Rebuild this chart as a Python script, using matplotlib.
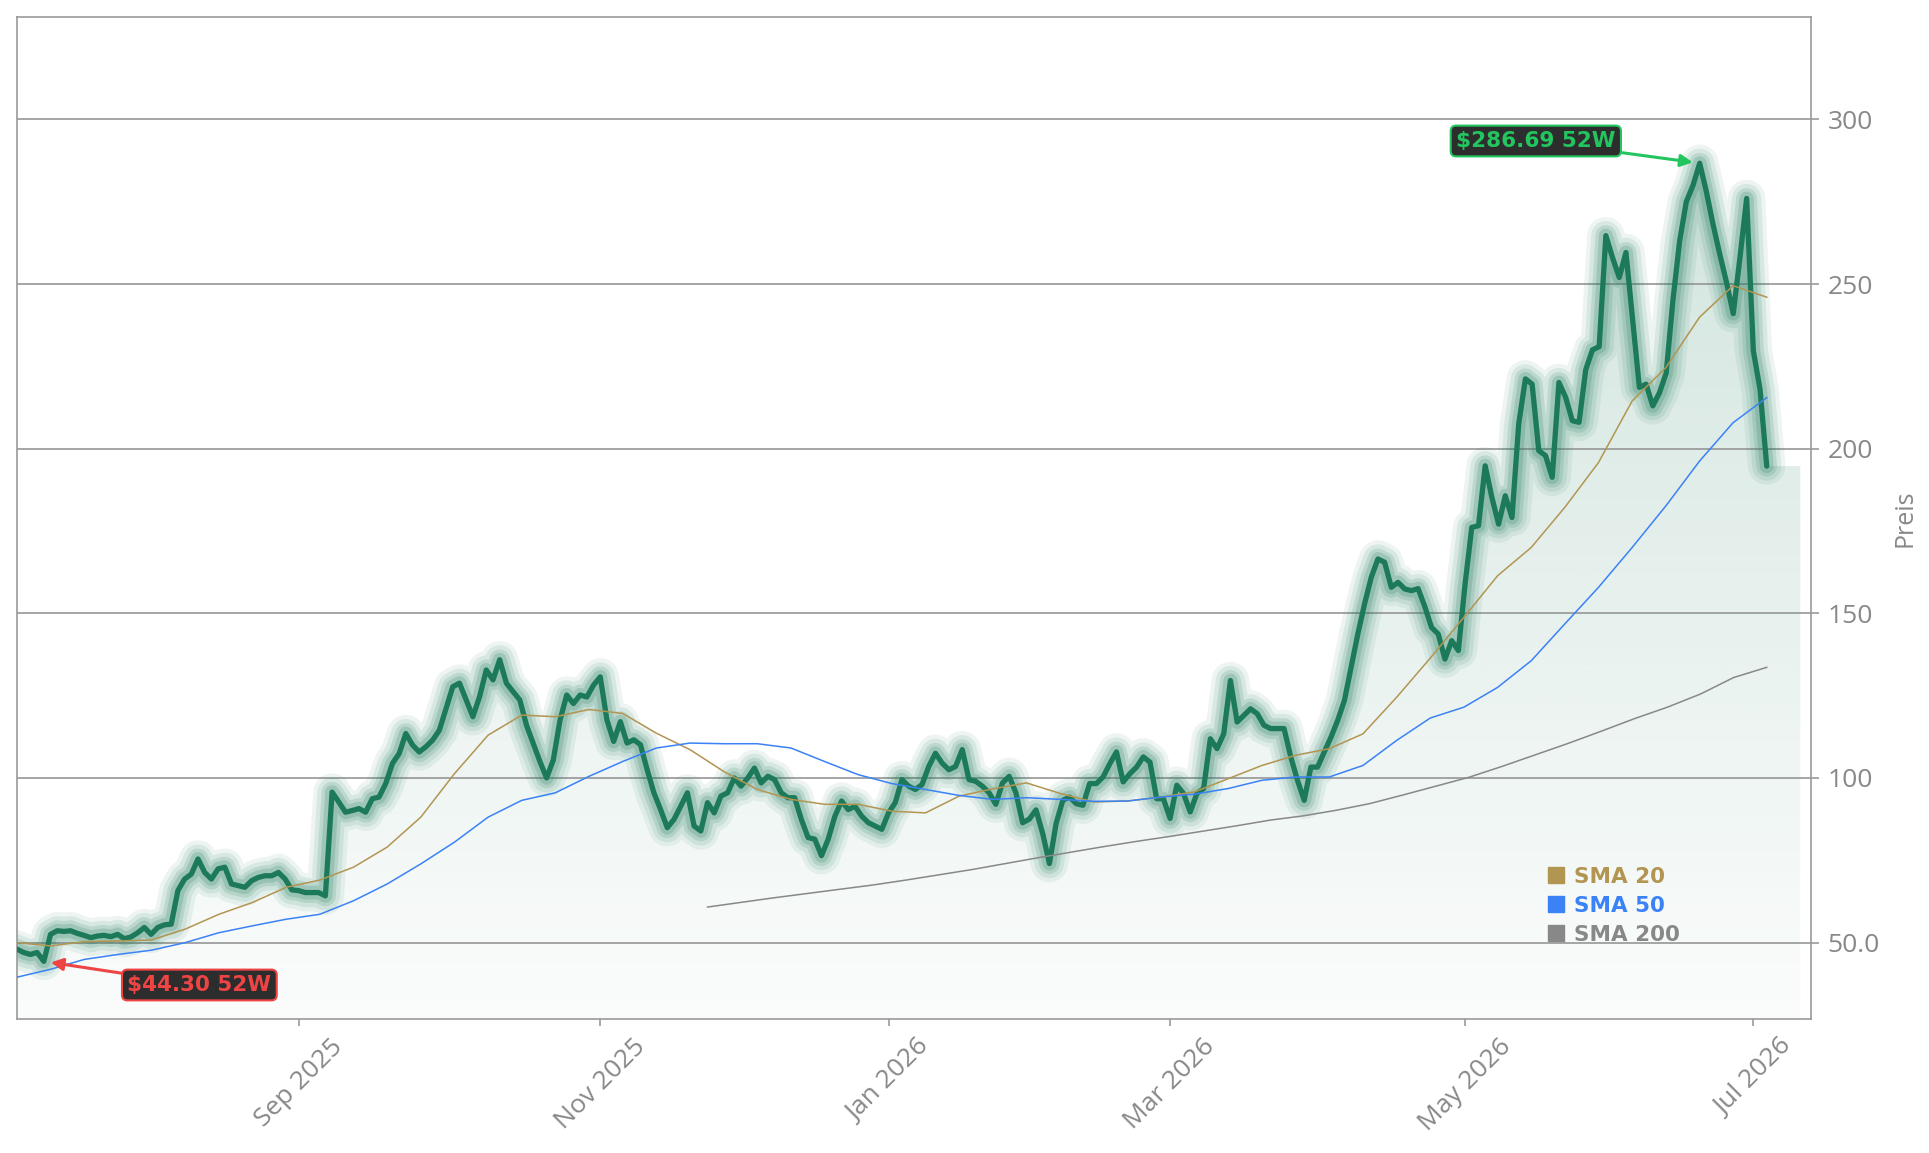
import matplotlib
matplotlib.use("Agg")
import matplotlib.pyplot as plt
from matplotlib.lines import Line2D
from matplotlib.patches import Polygon
from matplotlib.ticker import FuncFormatter
from matplotlib.colors import to_rgb
import numpy as np
import pandas as pd

# daily closes, business days starting 2025-07-03
price = [
    48.0, 47.0, 46.4, 47.0, 44.3, 52.5, 53.6, 53.4, 53.6, 52.8,
    52.2, 51.5, 52.0, 52.2, 51.8, 52.5, 51.2, 51.7, 53.0, 54.6,
    52.5, 54.6, 55.4, 55.6, 65.8, 69.3, 70.8, 75.4, 71.3, 69.3,
    72.4, 72.9, 67.8, 67.3, 66.8, 68.8, 69.8, 70.3, 70.3, 71.3,
    69.3, 66.0, 65.8, 65.2, 65.2, 65.2, 64.2, 95.7, 92.7, 89.6,
    90.1, 90.7, 89.6, 93.7, 94.2, 98.3, 104.4, 107.4, 113.5, 110.0,
    107.9, 109.5, 111.5, 114.5, 121.1, 127.7, 128.8, 123.7, 118.6, 124.7,
    132.8, 129.8, 135.9, 128.8, 126.2, 123.7, 116.0, 110.5, 105.0, 100.0,
    105.5, 117.6, 125.2, 122.6, 125.2, 124.6, 128.2, 130.7, 117.6, 111.1,
    117.1, 110.6, 111.6, 110.1, 102.5, 95.5, 90.4, 84.9, 87.4, 91.4,
    95.5, 85.4, 83.9, 92.5, 89.4, 94.5, 95.5, 100.0, 97.5, 100.0,
    103.0, 98.5, 100.5, 99.5, 95.5, 94.0, 94.0, 87.4, 81.9, 81.4,
    76.4, 81.4, 88.4, 93.0, 90.4, 91.4, 88.4, 86.4, 85.4, 84.4,
    89.4, 92.5, 99.5, 97.5, 96.5, 98.0, 103.5, 107.5, 104.5, 102.5,
    103.5, 108.6, 99.5, 99.0, 97.5, 95.5, 92.0, 98.5, 100.5, 95.5,
    86.4, 87.5, 90.3, 83.1, 74.0, 86.2, 93.2, 94.2, 92.2, 91.7,
    98.3, 98.3, 100.3, 104.3, 107.9, 98.8, 101.3, 103.3, 106.4, 104.8,
    93.7, 93.7, 87.7, 97.8, 95.3, 89.7, 95.3, 96.8, 111.9, 108.9,
    113.4, 129.6, 117.0, 119.0, 121.0, 119.5, 116.0, 115.0, 115.0, 115.0,
    106.4, 99.3, 93.2, 103.3, 103.3, 107.9, 112.4, 117.5, 123.5, 133.6,
    143.7, 152.8, 160.9, 166.5, 165.5, 157.9, 159.4, 157.4, 156.9, 157.5,
    152.0, 145.7, 143.7, 136.1, 141.7, 138.7, 158.9, 176.1, 176.6, 194.8,
    185.2, 177.1, 185.7, 179.1, 207.5, 221.2, 219.6, 199.4, 197.9, 191.3,
    220.1, 215.6, 208.5, 208.0, 224.0, 230.0, 231.0, 264.7, 258.0, 252.0,
    259.6, 239.0, 218.6, 219.6, 213.0, 217.0, 223.0, 245.0, 263.0, 275.0,
    280.0, 286.69, 278.0, 268.0, 259.0, 250.5, 241.0, 258.0, 276.0, 229.7,
    218.0, 194.7,
]

# moving averages, read off roughly once a week across the window
sma20 = [
    50.0, 49.0, 50.3, 50.5, 50.8, 54.1, 58.6, 62.2, 66.8, 69.0,
    72.9, 79.0, 88.1, 101.3, 113.0, 119.1, 118.6, 120.8, 119.6, 113.6,
    108.6, 102.0, 96.5, 93.5, 92.0, 92.0, 89.9, 89.4, 94.5, 96.7,
    98.5, 95.3, 92.7, 93.0, 94.2, 95.8, 99.8, 103.8, 106.9, 108.9,
    113.4, 124.5, 136.4, 148.8, 161.4, 170.0, 182.2, 195.8, 214.5, 224.6,
    239.9, 249.5, 246.0,
]
sma50 = [
    39.5, 41.9, 44.9, 46.4, 47.7, 50.0, 53.0, 55.1, 57.1, 58.6,
    62.7, 67.8, 73.9, 80.5, 88.1, 93.2, 95.5, 100.5, 105.0, 109.1,
    110.6, 110.4, 110.4, 109.1, 105.0, 101.0, 98.3, 96.5, 94.7, 93.5,
    94.0, 93.5, 92.9, 93.0, 94.2, 95.1, 96.8, 99.3, 100.3, 100.3,
    103.8, 111.4, 118.2, 121.5, 127.5, 135.6, 146.8, 157.9, 170.0, 182.6,
    196.2, 207.9, 215.5,
]
sma200_first_day = 103
sma200 = [
    60.8, 62.2, 63.6, 64.9, 66.2, 67.5, 69.0, 70.6, 72.2, 74.0,
    75.8, 77.5, 79.2, 80.8, 82.3, 83.9, 85.5, 87.2, 88.5, 90.2,
    92.2, 94.8, 97.5, 100.2, 103.5, 107.0, 110.5, 114.2, 118.0, 121.5,
    125.5, 130.5, 133.6,
]
sma_labels = ["SMA 20", "SMA 50", "SMA 200"]

price = np.array(price)
n = len(price)
x = np.arange(n)
dates = pd.bdate_range("2025-07-03", periods=n)

GREEN = "#1c7a5a"
SMA_COLORS = ["#b39552", "#3b82f6", "#888888"]
GRAY = "#999999"
TXT = "#888888"

fig = plt.figure(figsize=(19.29, 11.53), dpi=100)
ax = fig.add_axes([17 / 1929, 1 - 1019 / 1153, 1794 / 1929, 1002 / 1153])

ylo, yhi = 26.8, 331.1
xr = n - 1 + 5

# gradient fill under the price curve
rgb = to_rgb(GREEN)
grad = np.zeros((256, 1, 4))
grad[:, 0, :3] = rgb
grad[:, 0, 3] = np.linspace(0.02, 0.2, 256)
img = ax.imshow(grad, extent=[0, xr, ylo, price.max()], origin="lower",
                aspect="auto", zorder=0.5, interpolation="bilinear")
verts = [(0, ylo)] + list(zip(x, price)) + [(xr, price[-1]), (xr, ylo)]
clip = Polygon(verts, closed=True, facecolor="none", edgecolor="none")
ax.add_patch(clip)
img.set_clip_path(clip)

# glow
for lw, a in [(27, 0.08), (21, 0.1), (15, 0.14), (10, 0.19)]:
    ax.plot(x, price, color=GREEN, lw=lw, alpha=a, solid_capstyle="round",
            solid_joinstyle="round", zorder=2)
ax.plot(x, price, color=GREEN, lw=3.8, solid_capstyle="round",
        solid_joinstyle="round", zorder=3)

# moving averages
ax.plot(np.linspace(0, n - 1, len(sma20)), sma20, color=SMA_COLORS[0], lw=1.1, zorder=4)
ax.plot(np.linspace(0, n - 1, len(sma50)), sma50, color=SMA_COLORS[1], lw=1.1, zorder=4)
ax.plot(np.linspace(sma200_first_day, n - 1, len(sma200)), sma200,
        color=SMA_COLORS[2], lw=1.1, zorder=4)

# 52 week high / low
imax, imin = int(price.argmax()), int(price.argmin())
ax.annotate(f"${price[imax]:.2f} 52W", xy=(imax, price[imax]), xytext=(-118, 16),
            textcoords="offset points", ha="center", va="center",
            fontsize=15.5, fontweight="bold", color="#22c55e",
            bbox=dict(boxstyle="round,pad=0.25", fc="#2d2d2d", ec="#22c55e", lw=1.5),
            arrowprops=dict(arrowstyle="-|>", color="#22c55e", lw=2.2,
                            mutation_scale=18, shrinkA=0, shrinkB=5), zorder=6)
ax.annotate(f"${price[imin]:.2f} 52W", xy=(imin, price[imin]), xytext=(112, -17),
            textcoords="offset points", ha="center", va="center",
            fontsize=15.5, fontweight="bold", color="#ef4444",
            bbox=dict(boxstyle="round,pad=0.25", fc="#2d2d2d", ec="#ef4444", lw=1.5),
            arrowprops=dict(arrowstyle="-|>", color="#ef4444", lw=2.2,
                            mutation_scale=18, shrinkA=0, shrinkB=5), zorder=6)

# legend
handles = [Line2D([], [], ls="none", marker="s", markersize=12, color=c) for c in SMA_COLORS]
leg = ax.legend(handles, sma_labels, loc="upper left", bbox_to_anchor=(0.853, 0.152),
                frameon=False, handlelength=0.8, handletextpad=0.45, labelspacing=0.42,
                borderpad=0, borderaxespad=0, prop=dict(weight="bold", size=15.5))
for t, c in zip(leg.get_texts(), SMA_COLORS):
    t.set_color(c)

# axes styling
ax.set_xlim(0, n - 1 + 6.6)
ax.set_ylim(ylo, yhi)
ax.yaxis.tick_right()
ax.yaxis.set_label_position("right")
ax.set_yticks([50, 100, 150, 200, 250, 300])
ax.yaxis.set_major_formatter(FuncFormatter(lambda v, p: f"{v:.0f}" if v >= 100 else f"{v:.1f}"))
ax.grid(axis="y", color="#969696", lw=1.2)
ax.set_axisbelow(True)

tick_idx = [i for i in range(1, n) if dates[i].month != dates[i - 1].month and dates[i].month % 2 == 1]
ax.set_xticks(tick_idx)
ax.set_xticklabels([dates[i].strftime("%b %Y") for i in tick_idx], rotation=45, ha="center",
                   family="Open Sans")
for t in ax.get_yticklabels():
    t.set_family("Open Sans")

ax.tick_params(axis="y", colors=TXT, labelsize=19, length=6, width=1.2, pad=6)
ax.tick_params(axis="x", colors=TXT, labelsize=19, length=5, width=1.2, pad=6)
ax.tick_params(color=GRAY)
ax.set_ylabel("Preis", color=TXT, fontsize=18, family="Open Sans", labelpad=9)
for s in ax.spines.values():
    s.set_color(GRAY)
    s.set_linewidth(1.2)

fig.savefig("out.png", dpi=100)
